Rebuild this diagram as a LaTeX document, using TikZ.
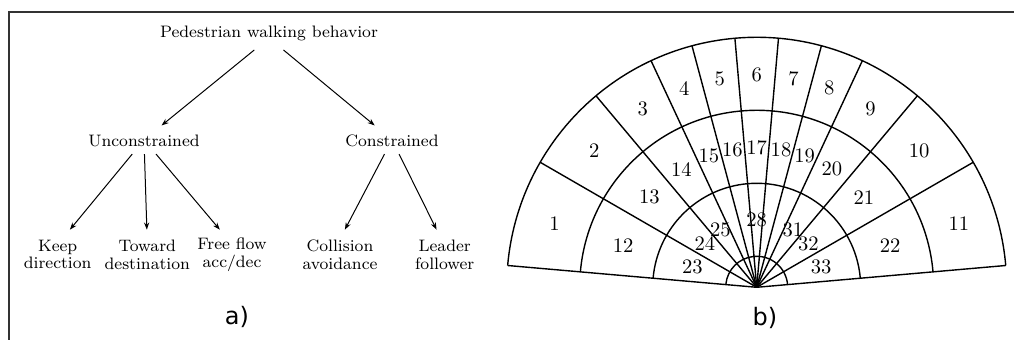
\documentclass[tikz,border=0pt]{standalone}
\usepackage{fontspec}
\newfontfamily\labfont{DejaVu Sans}
\usetikzlibrary{arrows.meta}
\begin{document}
\begin{tikzpicture}[x=0.5pt,y=-0.5pt,
  tree/.style={font=\fontsize{8.3}{8.7}\selectfont, inner sep=0pt, outer sep=0pt},
  rootbox/.style={tree, text height=6pt, text depth=6pt},
  midbox/.style={tree, text height=10.6pt, text depth=3.7pt},
  leaf/.style={tree, align=center, minimum height=25pt},
  arr/.style={-{Stealth[length=3.6pt,width=2.6pt]}, line width=0.5pt},
  num/.style={font=\fontsize{10.3}{12}\selectfont, inner sep=0pt},
  fan/.style={line width=0.7pt, line join=round},
  panel/.style={font=\labfont\fontsize{12}{14}\selectfont, inner sep=0pt}]
\useasboundingbox (0,0) rectangle (1014,340);
% frame
\draw[line width=0.6pt, black!80] (9,340) -- (9,12) -- (1014,12);

% tree
\node[rootbox] (root) at (269,38) {Pedestrian walking behavior};
\node[midbox] (unc) at (144,139.8) {Unconstrained};
\node[midbox] (con) at (392,139.8) {Constrained};
\node[leaf] (keep) at (57.7,254.7) {Keep\\direction};
\node[leaf] (tow) at (147.3,254.7) {Toward\\destination};
\node[leaf] (free) at (232,254.7) {Free flow\\acc/dec};
\node[leaf] (coll) at (340,254.7) {Collision\\avoidance};
\node[leaf] (lead) at (444.7,254.7) {Leader\\follower};

\draw[arr] (root) -- (unc);
\draw[arr] (root) -- (con);
\draw[arr] (unc) -- (keep.64);
\draw[arr] (unc) -- (tow.91);
\draw[arr] (unc) -- (free.116);
\draw[arr] (con) -- (coll.79);
\draw[arr] (con) -- (lead.108);

\node[panel] (pa) at (237,317) {a)};

% fan
\coordinate (C) at (756.7,287.3);
\begin{scope}[shift={(C)}, x=1pt, y=1pt, fan]
  \foreach \r in {125,88.5,52,15.5}
    \draw (5:\r pt) arc[start angle=5, end angle=175, radius=\r pt];
  \foreach \a in {5,30,50,65,75,85,95,105,115,130,150,175}
    \draw (0,0) -- (\a:125pt);
  \foreach \n/\a in {1/162.5,2/140,3/122.5,4/110,5/100,6/90,7/80,8/70,9/57.5,10/40,11/17.5}
    \node[num] (o\n) at (\a:106pt) {\n};
  \foreach \n/\a in {12/162.5,13/140,14/122.5,15/110,16/100,17/90,18/80,19/70,20/57.5,21/40,22/17.5}
    \node[num] (m\n) at (\a:70pt) {\n};
  \foreach \n/\a in {23/162.5,24/140,25/122.5,28/90,31/57.5,32/40,33/17.5}
    \node[num] (i\n) at (\a:33.75pt) {\n};
\end{scope}

\node[panel] (pb) at (765,318) {b)};
\end{tikzpicture}
\end{document}
